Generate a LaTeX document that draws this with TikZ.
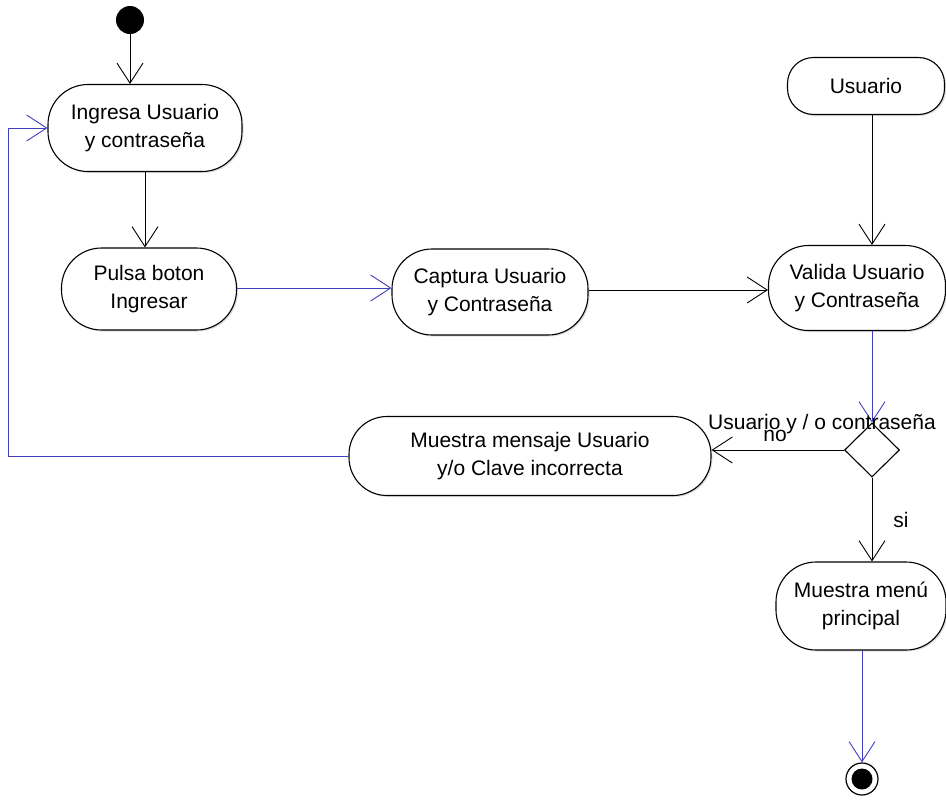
\documentclass[tikz,border=0pt]{standalone}
\usepackage{fontspec}
\setmainfont{Liberation Sans}
\usetikzlibrary{arrows.meta,shapes.geometric,shadows}
\definecolor{flowblue}{RGB}{64,64,192}
\begin{document}
\begin{tikzpicture}[x=1pt,y=-1pt,
  font=\fontsize{21}{28}\selectfont,
  action/.style={draw=black, line width=1.1pt, fill=white, align=center,
    rounded corners=40pt, inner sep=0pt,
    drop shadow={opacity=0.25, shadow xshift=1.5pt, shadow yshift=-1.5pt}},
  flow/.style={line width=1pt, -{Straight Barb[length=20pt,width=26pt,line width=0.9pt]}},
  blueflow/.style={flow, draw=flowblue},
  lbl/.style={inner sep=0pt}]
\useasboundingbox (0,0) rectangle (946,801);

% initial and final states
\node[circle, fill=black, minimum size=28pt, inner sep=0pt] (start) at (130,20) {};
\node[circle, draw=black, line width=1.2pt, fill=white, minimum size=32pt, inner sep=0pt] (end) at (862,779) {};
\fill[black] (end.center) circle (10.5pt);

% actions
\node[action, minimum width=194pt, minimum height=87pt] (ing) at (145,128) {Ingresa Usuario\\y contraseña};
\node[action, minimum width=175pt, minimum height=82pt] (pulsa) at (149,289) {Pulsa boton\\Ingresar};
\node[action, minimum width=196pt, minimum height=86pt] (cap) at (490,292) {Captura Usuario\\y Contraseña};
\node[action, minimum width=177pt, minimum height=85pt] (val) at (857,288) {Valida Usuario\\y Contraseña};
\node[action, rounded corners=26pt, minimum width=157pt, minimum height=57pt] (usr) at (866,86) {Usuario};
\node[action, minimum width=362pt, minimum height=79pt, rounded corners=38pt] (msg) at (530,456) {Muestra mensaje Usuario\\y/o Clave incorrecta};
\node[action, minimum width=170pt, minimum height=88pt] (menu) at (861,606) {Muestra menú\\principal};

% decision
\node[diamond, draw=black, line width=1.1pt, fill=white, minimum width=55pt, minimum height=54pt, inner sep=0pt] (dia) at (872,450) {};

% loop-back corner
\coordinate (lp) at (8,456);

% transitions
\draw[flow] (start) -- (start |- ing.north);
\draw[flow] (ing.south) -- (ing.south |- pulsa.north);
\draw[blueflow] (pulsa.east |- 0,288) -- (cap.west |- 0,288);
\draw[flow] (cap.east |- 0,290) -- (val.west |- 0,290);
\draw[flow] (usr.south -| dia) -- (dia |- val.north);
\draw[blueflow] (val.south -| dia) -- (dia.north);
\draw[flow] (dia.west) -- (dia.west -| msg.east);
\draw[flow] (dia.south) -- (dia.south |- menu.north);
\draw[blueflow] (msg.west) -- (lp) |- (ing.west);
\draw[blueflow] (end.north |- menu.south) -- (end.north);

% guard labels
\node[lbl] (lno) at (775,436) {no};
\node[lbl] (lcond) at (822,424) {Usuario y / o contraseña};
\node[lbl] (lsi) at (901,520) {si};
\end{tikzpicture}
\end{document}
